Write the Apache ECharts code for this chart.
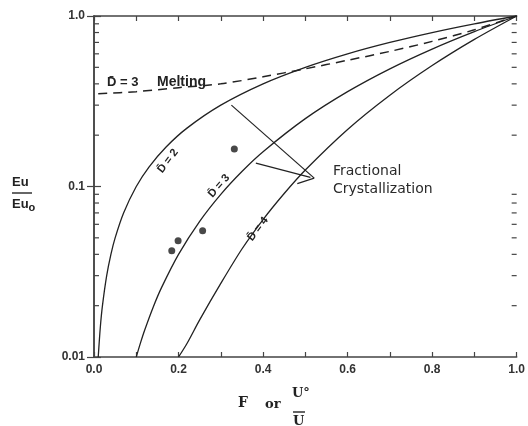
<!DOCTYPE html>
<html>
<head>
<meta charset="utf-8">
<script src="https://cdn.jsdelivr.net/npm/echarts@6/dist/echarts.min.js"></script>
<style>html,body{margin:0;padding:0;background:#fff}#c{width:528px;height:426px}</style>
</head>
<body>
<div id="c"></div>
<script>
// Fractional crystallization curves (x = F, y = Eu/Eu0)
const d2X = [0.01,0.015,0.02,0.03,0.04,0.05,0.07,0.1,0.13,0.17,0.22,0.3,0.4,0.5,0.6,0.7,0.8,0.9,1.0];
const d2Y = [0.01,0.015,0.02,0.03,0.04,0.05,0.07,0.1,0.13,0.17,0.22,0.3,0.4,0.5,0.6,0.7,0.8,0.9,1.0];
const d3X = [0.1,0.11,0.12,0.14,0.16,0.2,0.25,0.3,0.35,0.4,0.5,0.6,0.7,0.8,0.9,1.0];
const d3Y = [0.01,0.0121,0.0144,0.0196,0.0256,0.04,0.0625,0.09,0.1225,0.16,0.25,0.36,0.49,0.64,0.81,1.0];
const d4X = [0.2,0.22,0.25,0.3,0.35,0.4,0.45,0.5,0.6,0.7,0.8,0.9,1.0];
const d4Y = [0.01,0.012,0.0165,0.027,0.043,0.064,0.091,0.125,0.216,0.343,0.512,0.729,1.0];
// Batch melting, D = 3 (dashed)
const meltX = [0.01,0.1,0.2,0.3,0.4,0.5,0.6,0.7,0.8,0.9,1.0];
const meltY = [0.35,0.36,0.38,0.40,0.44,0.49,0.55,0.62,0.71,0.83,1.0];
// Sample points
const ptsX = [0.184,0.199,0.257,0.332];
const ptsY = [0.042,0.048,0.055,0.166];
// Pointer lines for the "Fractional Crystallization" label
const ptr1X = [0.325,0.521], ptr1Y = [0.30,0.112];
const ptr2X = [0.383,0.512], ptr2Y = [0.137,0.113];
const ptr3X = [0.481,0.521], ptr3Y = [0.104,0.112];
// Log minor tick values
const minorTicks = [0.02,0.03,0.04,0.05,0.06,0.07,0.08,0.09,0.2,0.3,0.4,0.5,0.6,0.7,0.8,0.9];

const zip = (xs, ys) => xs.map((x, i) => [x, ys[i]]);
const ink = '#222';
const lab = {fontFamily:'Liberation Sans', fontWeight:'bold', fontSize:12, color:'#333'};

const chart = echarts.init(document.getElementById('c'), null, {renderer:'canvas'});
const lineSeries = (xs, ys, extra) => Object.assign({
  type:'line', data: zip(xs, ys), showSymbol:false, smooth:0.3,
  lineStyle:{color:ink, width:1.3}, silent:true, animation:false, z:3
}, extra||{});

chart.setOption({
  animation:false,
  grid:{left:94, right:6, top:16, bottom:69},
  xAxis:[
    {type:'value', min:0, max:1, interval:0.1, position:'bottom',
     axisLine:{lineStyle:{color:'#444', width:1.5}},
     axisTick:{inside:true, length:5, lineStyle:{color:'#444', width:1.2}},
     splitLine:{show:false},
     axisLabel:Object.assign({margin:7, formatter:v => (Math.round(v*10)%2===0 ? v.toFixed(1) : '')}, lab)},
    {type:'value', min:0, max:1, interval:0.1, position:'top',
     axisLine:{lineStyle:{color:'#444', width:1.5}},
     axisTick:{inside:true, length:5, lineStyle:{color:'#444', width:1.2}},
     splitLine:{show:false}, axisLabel:{show:false}}
  ],
  yAxis:[
    {type:'log', logBase:10, min:0.01, max:1, position:'left',
     axisLine:{show:true, lineStyle:{color:'#444', width:1.5}},
     axisTick:{show:true, inside:true, length:7, lineStyle:{color:'#444', width:1.2}},
     splitLine:{show:false},
     axisLabel:Object.assign({margin:9, formatter:v => (v>0.5?'1.0':(v>0.05?'0.1':'0.01'))}, lab)},
    {type:'log', logBase:10, min:0.01, max:1, position:'right',
     axisLine:{show:true, lineStyle:{color:'#444', width:1.5}},
     axisTick:{show:true, inside:true, length:7, lineStyle:{color:'#444', width:1.2}},
     splitLine:{show:false}, axisLabel:{show:false}}
  ],
  series:[
    {type:'custom', silent:true, z:2, data: minorTicks.map(v => [0, v]), encode:{x:0, y:1},
     renderItem:(params, api) => {
       const v = api.value(1);
       const l = api.coord([0, v]), r = api.coord([1, v]);
       const st = {stroke:'#444', lineWidth:1.2};
       return {type:'group', children:[
         {type:'line', shape:{x1:l[0], y1:l[1], x2:l[0]+5, y2:l[1]}, style:st},
         {type:'line', shape:{x1:r[0]-5, y1:r[1], x2:r[0], y2:r[1]}, style:st}
       ]};
     }},
    lineSeries(d2X, d2Y),
    lineSeries(d3X, d3Y),
    lineSeries(d4X, d4Y),
    lineSeries(meltX, meltY, {lineStyle:{color:ink, width:1.5, type:[9,6]}}),
    lineSeries(ptr1X, ptr1Y, {smooth:false, lineStyle:{color:ink, width:1.2}}),
    lineSeries(ptr2X, ptr2Y, {smooth:false, lineStyle:{color:ink, width:1.2}}),
    lineSeries(ptr3X, ptr3Y, {smooth:false, lineStyle:{color:ink, width:1.2}}),
    {type:'scatter', data: zip(ptsX, ptsY), symbol:'circle', symbolSize:7,
     itemStyle:{color:'#1a1a1a'}, silent:true, z:4}
  ],
  graphic:[
    // y axis title: Eu / Eu_o
    {type:'text', left:12, top:176, style:{text:'Eu', font:'bold 13px "Liberation Sans"', fill:'#222'}},
    {type:'line', shape:{x1:12, y1:193, x2:32, y2:193}, style:{stroke:'#333', lineWidth:1.5}},
    {type:'text', left:12, top:198, style:{text:'{a|Eu}{s|o}', rich:{
      a:{font:'bold 13px "Liberation Sans"', fill:'#222', textFill:'#222'},
      s:{font:'bold 11px "Liberation Sans"', fill:'#222', textFill:'#222', padding:[6,0,0,0]}}}},
    // x axis title: F or U°/U
    {type:'text', left:238, top:396, style:{text:'F', font:'bold 14px "DejaVu Serif"', fill:'#222'}},
    {type:'text', left:265, top:398, style:{text:'or', font:'bold 13px "DejaVu Serif"', fill:'#222'}},
    {type:'text', left:292, top:387, style:{text:'U°', font:'bold 13px "DejaVu Serif"', fill:'#222'}},
    {type:'line', shape:{x1:293, y1:412, x2:305, y2:412}, style:{stroke:'#333', lineWidth:1.5}},
    {type:'text', left:293, top:415, style:{text:'U', font:'bold 13px "DejaVu Serif"', fill:'#222'}},
    // Melting label
    {type:'text', left:107, top:76, style:{text:'D\u0304 = 3', font:'bold 13px "Liberation Sans"', fill:'#222'}},
    {type:'text', left:157, top:75, style:{text:'Melting', font:'bold 14px "Liberation Sans"', fill:'#222'}},
    // Fractional Crystallization label
    {type:'text', left:333, top:164, style:{text:'Fractional', font:'14px "DejaVu Sans"', fill:'#2a2a2a'}},
    {type:'text', left:333, top:182, style:{text:'Crystallization', font:'14px "DejaVu Sans"', fill:'#2a2a2a'}},
    // Curve labels (rotated)
    {type:'text', x:168, y:161, rotation:0.92, style:{text:'D\u0304 = 2', font:'bold 11px "Liberation Sans"', fill:'#222', align:'center', verticalAlign:'middle'}},
    {type:'text', x:219, y:186, rotation:0.85, style:{text:'D\u0304 = 3', font:'bold 11px "Liberation Sans"', fill:'#222', align:'center', verticalAlign:'middle'}},
    {type:'text', x:258, y:229, rotation:0.92, style:{text:'D\u0304 = 4', font:'bold 11px "Liberation Sans"', fill:'#222', align:'center', verticalAlign:'middle'}}
  ]
});
</script>
</body>
</html>
